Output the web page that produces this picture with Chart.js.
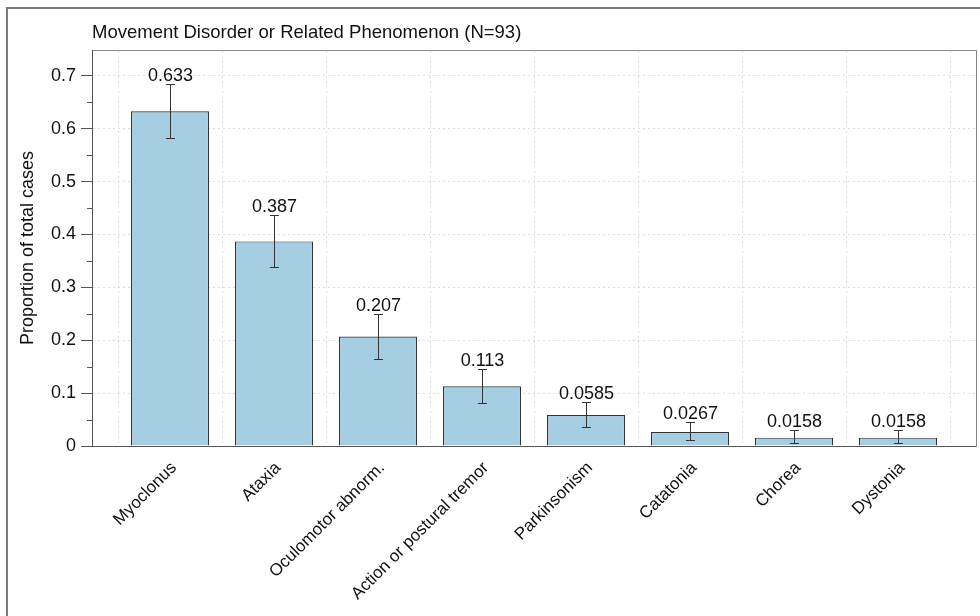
<!DOCTYPE html>
<html>
<head>
<meta charset="utf-8">
<script src="https://cdn.jsdelivr.net/npm/chart.js@4.4.1/dist/chart.umd.min.js"></script>
<style>
  html, body { margin: 0; padding: 0; background: #fff; overflow: hidden; }
  #wrap { position: relative; width: 980px; height: 616px; }
  #frame { position: absolute; left: 6px; top: 7px; width: 1000px; height: 700px; border: 2px solid #7c7c7c; }
  canvas { position: absolute; left: 0; top: 0; }
</style>
</head>
<body>
<div id="wrap">
  <div id="frame"></div>
  <canvas id="chart" width="980" height="616"></canvas>
</div>
<script>
// Data
const categories = ['Myoclonus', 'Ataxia', 'Oculomotor abnorm.', 'Action or postural tremor',
  'Parkinsonism', 'Catatonia', 'Chorea', 'Dystonia'];
const proportions = [0.633, 0.387, 0.207, 0.113, 0.0585, 0.0267, 0.0158, 0.0158];
const valueLabels = ['0.633', '0.387', '0.207', '0.113', '0.0585', '0.0267', '0.0158', '0.0158'];
const errorLow = [0.582, 0.339, 0.165, 0.081, 0.035, 0.011, 0.006, 0.006];
const errorHigh = [0.684, 0.437, 0.250, 0.146, 0.084, 0.045, 0.030, 0.030];
const yTicks = [0, 0.1, 0.2, 0.3, 0.4, 0.5, 0.6, 0.7];
const yMinorTicks = [0.05, 0.15, 0.25, 0.35, 0.45, 0.55, 0.65];

const FONT = "'Liberation Sans', Arial, Helvetica, sans-serif";
const TEXT = '#111';

// error bars, value labels, minor y ticks
const extrasPlugin = {
  id: 'extras',
  afterDatasetsDraw(chart) {
    const { ctx, scales: { x, y } } = chart;
    ctx.save();
    ctx.strokeStyle = '#333';
    ctx.lineWidth = 1;
    ctx.fillStyle = TEXT;
    ctx.font = '18px ' + FONT;
    ctx.textAlign = 'center';
    ctx.textBaseline = 'alphabetic';
    proportions.forEach((v, i) => {
      const px = Math.round(x.getPixelForValue(i)) + 0.5;
      const top = Math.round(y.getPixelForValue(errorHigh[i])) + 0.5;
      const bot = Math.round(y.getPixelForValue(errorLow[i])) + 0.5;
      ctx.beginPath();
      ctx.moveTo(px, top); ctx.lineTo(px, bot);
      ctx.moveTo(px - 4.5, top); ctx.lineTo(px + 4.5, top);
      ctx.moveTo(px - 4.5, bot); ctx.lineTo(px + 4.5, bot);
      ctx.stroke();
      ctx.fillText(valueLabels[i], px, top - 4);
    });

    ctx.strokeStyle = '#555';
    ctx.beginPath();
    yMinorTicks.forEach(v => {
      const py = Math.round(y.getPixelForValue(v)) + 0.5;
      ctx.moveTo(y.right - 5, py);
      ctx.lineTo(y.right, py);
    });
    ctx.stroke();
    ctx.restore();
  }
};

new Chart(document.getElementById('chart'), {
  type: 'bar',
  data: {
    datasets: [{
      data: proportions.map((v, i) => ({ x: i, y: v })),
      backgroundColor: '#a6cee3',
      borderColor: '#333',
      borderWidth: 1.2,
      categoryPercentage: 0.75,
      barPercentage: 1
    }]
  },
  options: {
    responsive: false,
    animation: false,
    layout: { padding: { left: 0, right: 4, top: 0, bottom: 0 } },
    plugins: {
      legend: { display: false },
      tooltip: { enabled: false },
      title: {
        display: true,
        text: 'Movement Disorder or Related Phenomenon (N=93)',
        align: 'start',
        fullSize: false,
        color: TEXT,
        font: { family: FONT, size: 18.5, weight: 'normal' },
        padding: { top: 22, bottom: 5.8 }
      }
    },
    scales: {
      x: {
        type: 'linear',
        offset: false,
        min: -0.75,
        max: 7.75,
        afterBuildTicks: s => { s.ticks = categories.map((c, i) => ({ value: i })); },
        afterFit: s => { s.height = 170; },
        ticks: {
          autoSkip: false,
          minRotation: 45,
          maxRotation: 45,
          padding: 4,
          labelOffset: 4,
          color: TEXT,
          font: { family: FONT, size: 17 },
          callback: v => categories[v]
        },
        grid: { display: false, offset: false },
        border: { display: true, color: '#555' }
      },
      x2: {
        type: 'linear',
        position: 'top',
        offset: false,
        min: -0.75,
        max: 7.75,
        afterBuildTicks: s => {
          s.ticks = categories.map((c, i) => ({ value: i - 0.5 }))
            .concat([{ value: categories.length - 0.5 }]);
        },
        ticks: { display: false },
        grid: { color: '#dcdcdc', drawTicks: false, offset: false },
        border: { display: true, color: '#888', dash: [2, 3] }
      },
      y: {
        min: 0,
        max: 0.749,
        afterBuildTicks: s => { s.ticks = yTicks.map(v => ({ value: v })); },
        afterFit: s => { s.width = 92; },
        ticks: {
          color: TEXT,
          padding: 5,
          font: { family: FONT, size: 18 },
          callback: v => (v === 0 ? '0' : v.toFixed(1))
        },
        grid: {
          color: c => (c.tick && c.tick.value === 0 ? 'rgba(0,0,0,0)' : '#dcdcdc'),
          tickColor: '#555',
          tickLength: 11,
          tickBorderDash: []
        },
        border: { display: true, color: '#555', dash: [2, 3] },
        title: {
          display: true,
          text: 'Proportion of total cases',
          color: TEXT,
          font: { family: FONT, size: 18 },
          padding: { top: 17, bottom: 0 }
        }
      },
      y2: {
        position: 'right',
        min: 0,
        max: 1,
        ticks: { display: false },
        grid: { display: false, drawTicks: false },
        border: { display: true, color: '#888' }
      }
    }
  },
  plugins: [extrasPlugin]
});
</script>
</body>
</html>
